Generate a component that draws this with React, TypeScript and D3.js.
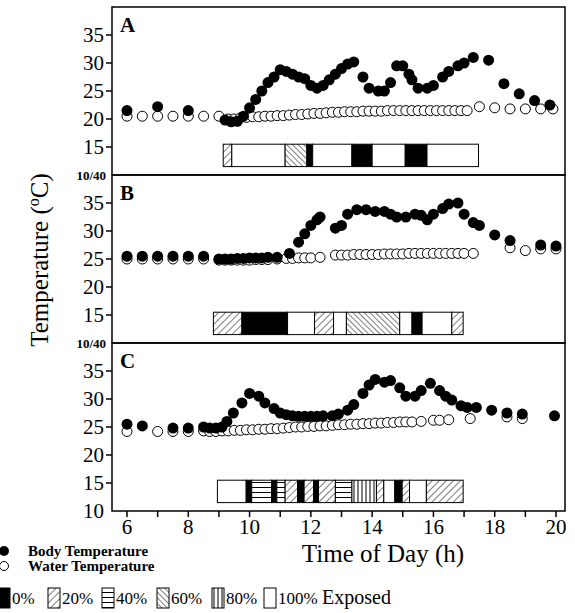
import * as d3 from "d3";

type Pt = [number, number];
type Seg = [number, number, string];

const bodyA: Pt[] = [[6, 21.5], [7, 22.2], [8, 21.5], [9.2, 19.8], [9.4, 19.5], [9.6, 19.6], [9.8, 20.5], [10, 22], [10.2, 23.5], [10.4, 25], [10.6, 26.5], [10.8, 27.5], [11, 28.8], [11.2, 28.5], [11.4, 28], [11.6, 27.5], [11.8, 27.2], [12, 26], [12.2, 25.5], [12.4, 26], [12.6, 27], [12.8, 28], [13, 29], [13.2, 29.8], [13.4, 30.2], [13.7, 27.5], [13.9, 25.5], [14.2, 25], [14.4, 25], [14.6, 26.5], [14.8, 29.5], [15, 29.5], [15.2, 28], [15.3, 27], [15.5, 25.5], [15.8, 25.5], [16, 26], [16.3, 27.5], [16.5, 28.5], [16.8, 29.5], [17, 30], [17.3, 31], [17.8, 30.5], [18.3, 26.3], [18.8, 24.5], [19.3, 23.3], [19.8, 22.5]];
const waterA: Pt[] = [[6, 20.5], [6.5, 20.5], [7, 20.5], [7.5, 20.5], [8, 20.5], [8.5, 20.5], [9, 20.5], [9.3, 20], [9.5, 20], [9.7, 20.2], [9.9, 20.3], [10.1, 20.4], [10.3, 20.4], [10.5, 20.5], [10.7, 20.5], [10.9, 20.6], [11.1, 20.6], [11.3, 20.7], [11.5, 20.8], [11.7, 20.8], [11.9, 20.9], [12.1, 21], [12.3, 21], [12.5, 21.1], [12.7, 21.2], [12.9, 21.2], [13.1, 21.3], [13.3, 21.3], [13.5, 21.3], [13.7, 21.4], [13.9, 21.4], [14.1, 21.4], [14.3, 21.4], [14.5, 21.5], [14.7, 21.5], [14.9, 21.5], [15.1, 21.5], [15.3, 21.5], [15.5, 21.5], [15.7, 21.5], [15.9, 21.5], [16.1, 21.5], [16.3, 21.5], [16.5, 21.5], [16.7, 21.5], [16.9, 21.5], [17.1, 21.5], [17.5, 22.2], [18, 22], [18.5, 21.8], [19, 21.8], [19.5, 21.8], [19.9, 21.8]];
const barA: Seg[] = [[9.14, 9.42, "p20"], [9.42, 11.16, "white"], [11.16, 11.87, "p60"], [11.87, 12.06, "black"], [12.06, 13.34, "white"], [13.34, 14.0, "black"], [14.0, 15.08, "white"], [15.08, 15.79, "black"], [15.79, 17.47, "white"]];

const bodyB: Pt[] = [[6, 25.5], [6.5, 25.5], [7, 25.5], [7.5, 25.5], [8, 25.5], [8.5, 25.5], [9, 25], [9.2, 25], [9.4, 25], [9.6, 25.1], [9.8, 25.1], [10, 25.2], [10.2, 25.2], [10.4, 25.2], [10.6, 25.3], [10.9, 25.3], [11.3, 26], [11.6, 28], [11.8, 29.5], [12, 31], [12.2, 32], [12.3, 32.5], [12.8, 30.5], [13, 31], [13.2, 33], [13.5, 33.8], [13.8, 33.8], [14.1, 33.5], [14.4, 33.5], [14.6, 33], [14.8, 32.5], [15.1, 32.5], [15.4, 33], [15.6, 32.8], [15.8, 32], [16, 33], [16.3, 34], [16.5, 34.8], [16.8, 35], [17, 33], [17.3, 31.5], [17.5, 31], [18, 29.3], [18.5, 28.3], [19.5, 27.5], [20, 27.3]];
const waterB: Pt[] = [[6, 25], [6.5, 25], [7, 25], [7.5, 25], [8, 25], [8.5, 25], [9, 24.8], [9.2, 24.8], [9.4, 24.8], [9.6, 24.8], [9.8, 24.8], [10, 24.8], [10.2, 24.9], [10.4, 24.9], [10.6, 24.9], [10.9, 25], [11.2, 25.1], [11.4, 25.1], [11.6, 25.2], [11.8, 25.2], [12, 25.2], [12.3, 25.3], [12.8, 25.7], [13, 25.7], [13.2, 25.7], [13.4, 25.8], [13.6, 25.8], [13.8, 25.8], [14, 25.8], [14.2, 25.8], [14.4, 25.9], [14.6, 25.9], [14.8, 25.9], [15, 25.9], [15.2, 26], [15.4, 26], [15.6, 26], [15.8, 26], [16, 26], [16.2, 26], [16.4, 26], [16.6, 26], [16.8, 26], [17, 26], [17.3, 26], [18.5, 27], [19, 26.5], [19.5, 26.8], [20, 26.8]];
const barB: Seg[] = [[8.82, 9.75, "p20"], [9.75, 11.24, "black"], [11.24, 12.12, "white"], [12.12, 12.74, "p20"], [12.74, 13.16, "white"], [13.16, 14.9, "p60"], [14.9, 15.3, "white"], [15.3, 15.63, "black"], [15.63, 16.6, "white"], [16.6, 16.97, "p20"]];

const bodyC: Pt[] = [[6, 25.5], [6.5, 25.2], [7.5, 24.8], [8, 24.8], [8.5, 25], [8.7, 24.8], [8.9, 24.8], [9.1, 25], [9.26, 26], [9.47, 27.5], [9.75, 29.3], [10, 31], [10.3, 30.5], [10.5, 29.3], [10.8, 28.3], [11, 27.5], [11.2, 27.2], [11.4, 27], [11.6, 26.9], [11.8, 26.9], [12, 26.9], [12.2, 26.9], [12.4, 27], [12.7, 27], [12.9, 27.3], [13.2, 28], [13.4, 29], [13.7, 31], [13.9, 32.5], [14.1, 33.5], [14.4, 33], [14.6, 33.3], [14.9, 32], [15.1, 30.5], [15.4, 30.5], [15.6, 31.5], [15.9, 32.8], [16.2, 31.5], [16.4, 30.5], [16.6, 29.8], [16.9, 28.8], [17.1, 28.5], [17.4, 28.5], [17.9, 28], [18.4, 27.5], [18.9, 27.3], [19.95, 27]];
const waterC: Pt[] = [[6, 24.2], [7, 24.2], [7.5, 24.2], [8, 24.2], [8.5, 24.3], [8.7, 24.2], [8.9, 24.2], [9.1, 24.3], [9.3, 24.3], [9.5, 24.4], [9.7, 24.4], [9.9, 24.5], [10.1, 24.5], [10.3, 24.6], [10.5, 24.6], [10.7, 24.7], [10.9, 24.7], [11.1, 24.8], [11.3, 24.9], [11.5, 25], [11.7, 25], [11.9, 25.1], [12.1, 25.1], [12.3, 25.2], [12.5, 25.2], [12.7, 25.3], [12.9, 25.4], [13.1, 25.4], [13.3, 25.5], [13.5, 25.5], [13.7, 25.6], [13.9, 25.6], [14.1, 25.7], [14.3, 25.7], [14.5, 25.8], [14.7, 25.8], [14.9, 25.9], [15.1, 25.9], [15.3, 25.9], [15.6, 26], [16, 26.2], [16.2, 26.2], [16.5, 26.3], [17.2, 26.5], [18.4, 26.8], [18.9, 26.5]];
const barC: Seg[] = [[8.95, 9.89, "white"], [9.89, 10.07, "black"], [10.07, 10.72, "p40"], [10.72, 10.89, "black"], [10.89, 11.16, "p40"], [11.16, 11.57, "p20"], [11.57, 11.78, "black"], [11.78, 12.09, "p20"], [12.09, 12.25, "black"], [12.25, 12.8, "p20"], [12.8, 13.34, "p40"], [13.34, 14.14, "p80"], [14.14, 14.38, "p20"], [14.38, 14.74, "white"], [14.74, 14.98, "black"], [14.98, 15.22, "p20"], [15.22, 15.77, "white"], [15.77, 16.97, "p20"]];

const panels = [
  { label: "A", body: bodyA, water: waterA, bar: barA },
  { label: "B", body: bodyB, water: waterB, bar: barB },
  { label: "C", body: bodyC, water: waterC, bar: barC },
];
const yTicks = [15, 20, 25, 30, 35];
const xTicks = [6, 8, 10, 12, 14, 16, 18, 20];
const legendItems: [string, string][] = [["black", "0%"], ["p20", "20%"], ["p40", "40%"], ["p60", "60%"], ["p80", "80%"], ["white", "100%"]];

const font = "'Liberation Serif', 'DejaVu Serif', serif";
const left = 112, right = 565, top = 7, panelH = 168;
const x = d3.scaleLinear().domain([6, 20]).range([127, 556]);
const fillOf = (k: string) => (k === "white" ? "white" : k === "black" ? "black" : `url(#${k})`);

export default function App() {
  return (
    <svg width={575} height={613} style={{ position: "absolute", left: 0, top: 0 }} fontFamily={font}>
      <defs>
        <pattern id="p20" width={5} height={5} patternUnits="userSpaceOnUse" patternTransform="rotate(45)">
          <rect width={5} height={5} fill="white" />
          <line x1={0} y1={0} x2={0} y2={5} stroke="black" strokeWidth={1} />
        </pattern>
        <pattern id="p60" width={4} height={4} patternUnits="userSpaceOnUse" patternTransform="rotate(-45)">
          <rect width={4} height={4} fill="white" />
          <line x1={0} y1={0} x2={0} y2={4} stroke="black" strokeWidth={1} />
        </pattern>
        <pattern id="p40" width={5} height={5} patternUnits="userSpaceOnUse">
          <rect width={5} height={5} fill="white" />
          <line x1={0} y1={2.5} x2={5} y2={2.5} stroke="black" strokeWidth={1} />
        </pattern>
        <pattern id="p80" width={4} height={4} patternUnits="userSpaceOnUse">
          <rect width={4} height={4} fill="white" />
          <line x1={2} y1={0} x2={2} y2={4} stroke="black" strokeWidth={1} />
        </pattern>
      </defs>
      {panels.map((p, i) => {
        const y0 = top + i * panelH;
        const y = d3.scaleLinear().domain([10, 40]).range([y0 + panelH, y0]);
        return (
          <g key={p.label}>
            <rect x={left} y={y0} width={right - left} height={panelH} fill="none" stroke="black" strokeWidth={1.5} />
            {yTicks.map(t => (
              <g key={t}>
                <line x1={left - 6} x2={left} y1={y(t)} y2={y(t)} stroke="black" strokeWidth={1.5} />
                <text x={left - 8} y={y(t)} dy="0.35em" textAnchor="end" fontSize={21}>{t}</text>
              </g>
            ))}
            {i > 0 && <text x={left - 6} y={y(40)} dy="0.35em" textAnchor="end" fontSize={13} fontWeight="bold">10/40</text>}
            <text x={120} y={y0 + 25} fontSize={21} fontWeight="bold">{p.label}</text>
            {p.bar.map((s, j) => (
              <rect key={j} x={x(s[0])} y={y(15.5)} width={x(s[1]) - x(s[0])} height={y(11.5) - y(15.5)} fill={fillOf(s[2])} stroke="black" strokeWidth={1} />
            ))}
            {p.water.map((d, j) => (
              <circle key={j} cx={x(d[0])} cy={y(d[1])} r={5} fill="white" stroke="black" strokeWidth={1} />
            ))}
            {p.body.map((d, j) => (
              <circle key={j} cx={x(d[0])} cy={y(d[1])} r={5.5} fill="black" />
            ))}
          </g>
        );
      })}
      <text x={left - 8} y={top + 3 * panelH} dy="0.35em" textAnchor="end" fontSize={21}>10</text>
      {d3.range(6, 21).map(h => (
        <line key={h} x1={x(h)} x2={x(h)} y1={top + 3 * panelH} y2={top + 3 * panelH + 6} stroke="black" strokeWidth={1.5} />
      ))}
      {xTicks.map(t => (
        <text key={t} x={x(t)} y={top + 3 * panelH + 23} textAnchor="middle" fontSize={21}>{t}</text>
      ))}
      <text x={383} y={562} textAnchor="middle" fontSize={25}>Time of Day (h)</text>
      <text transform="translate(48,260) rotate(-90)" textAnchor="middle" fontSize={25}>
        Temperature (<tspan dy={-9} fontSize={16}>o</tspan><tspan dy={9}>C)</tspan>
      </text>
      <circle cx={4} cy={551} r={5} fill="black" />
      <text x={28} y={556} fontSize={15} fontWeight="bold">Body Temperature</text>
      <circle cx={4} cy={566} r={4.5} fill="white" stroke="black" />
      <text x={28} y={571} fontSize={15} fontWeight="bold">Water Temperature</text>
      {legendItems.map((it, j) => {
        const bx = [-2, 48, 102, 157, 212, 264][j];
        return (
          <g key={it[1]}>
            <rect x={bx} y={588} width={12} height={20} fill={fillOf(it[0])} stroke="black" strokeWidth={1} />
            <text x={bx + 14} y={604} fontSize={17}>{it[1]}</text>
          </g>
        );
      })}
      <text x={322} y={604} fontSize={20}>Exposed</text>
    </svg>
  );
}
